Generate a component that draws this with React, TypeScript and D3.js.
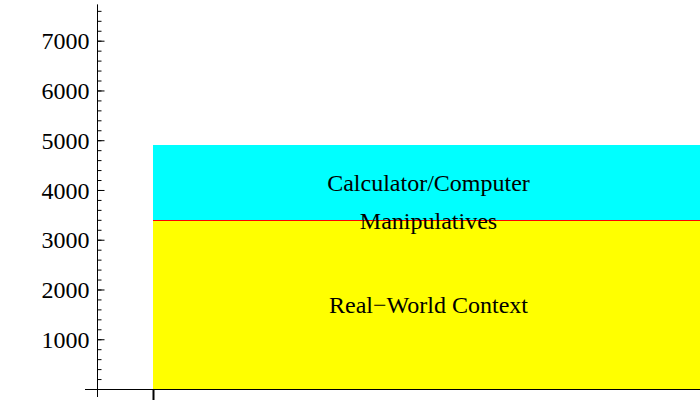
import React, { useEffect, useRef } from "react";
import * as d3 from "d3";

// Data (flat stacked areas)
const xs = [0, 1];
const categories = ["Real\u2212World Context", "Manipulatives", "Calculator/Computer"];
const realWorld = [3375, 3375];
const manipulatives = [20, 20];
const calculator = [1510, 1510];
const majorTicks = [1000, 2000, 3000, 4000, 5000, 6000, 7000];
const minorTicks = d3.range(200, 7700, 200);
const colors = ["#ffff00", "#ff0000", "#00ffff"];

const App = () => {
  const ref = useRef<SVGSVGElement>(null);

  useEffect(() => {
    const width = 700;
    const height = 400;
    const font = "'Liberation Serif', 'Times New Roman', serif";

    const svg = d3.select(ref.current);
    svg.selectAll("*").remove();
    svg.attr("width", width).attr("height", height);

    const x = d3.scaleLinear().domain([0, 1]).range([153, 704]);
    const y = d3.scaleLinear().domain([0, 7000]).range([389, 40.7]);

    const rows = xs.map((xv, i) => ({
      x: xv,
      [categories[0]]: realWorld[i],
      [categories[1]]: manipulatives[i],
      [categories[2]]: calculator[i],
    }));

    const series = d3.stack<any>().keys(categories)(rows);

    const area = d3
      .area<any>()
      .x((d) => x(d.data.x))
      .y0((d) => y(d[0]))
      .y1((d) => y(d[1]));

    svg
      .append("defs")
      .append("clipPath")
      .attr("id", "plot-clip")
      .append("rect")
      .attr("x", 0)
      .attr("y", 0)
      .attr("width", width)
      .attr("height", height);

    svg
      .append("g")
      .attr("clip-path", "url(#plot-clip)")
      .selectAll("path")
      .data(series)
      .enter()
      .append("path")
      .attr("d", area)
      .attr("fill", (d, i) => colors[i]);

    // band labels, centred in each band
    const xMid = (x(xs[0]) + x(xs[xs.length - 1])) / 2;
    svg
      .append("g")
      .selectAll("text")
      .data(series)
      .enter()
      .append("text")
      .attr("x", xMid)
      .attr("y", (d) => (y(d[0][0]) + y(d[0][1])) / 2)
      .attr("dy", "0.34em")
      .attr("text-anchor", "middle")
      .attr("font-family", font)
      .attr("font-size", 24)
      .attr("fill", "#000")
      .text((d) => d.key);

    // x axis
    svg
      .append("line")
      .attr("x1", 85)
      .attr("x2", width)
      .attr("y1", 389.5)
      .attr("y2", 389.5)
      .attr("stroke", "#000");

    const xAxis = svg
      .append("g")
      .attr("transform", "translate(0,389)")
      .call(d3.axisBottom(x).tickValues([xs[0]]).tickSize(12).tickFormat(() => ""));
    xAxis.select(".domain").remove();
    xAxis.selectAll("line").attr("stroke", "#000").attr("stroke-width", 2);

    // y axis
    const axisX = 97.5;
    svg
      .append("line")
      .attr("x1", axisX)
      .attr("x2", axisX)
      .attr("y1", y(7730))
      .attr("y2", 397)
      .attr("stroke", "#000");

    const minor = svg
      .append("g")
      .attr("transform", `translate(${axisX},0)`)
      .call(d3.axisLeft(y).tickValues(minorTicks).tickSize(-4).tickFormat(() => ""));
    minor.select(".domain").remove();
    minor.selectAll("line").attr("stroke", "#000");

    const major = svg
      .append("g")
      .attr("transform", `translate(${axisX},0)`)
      .call(d3.axisLeft(y).tickValues(majorTicks).tickSize(-7).tickPadding(8).tickFormat(d3.format("d")));
    major.select(".domain").remove();
    major.selectAll("line").attr("stroke", "#000");
    major
      .selectAll("text")
      .attr("font-family", font)
      .attr("font-size", 24)
      .attr("fill", "#000")
      .attr("dy", "0.34em");
  }, []);

  return (
    <svg
      ref={ref}
      style={{ position: "absolute", left: 0, top: 0, background: "#fff" }}
    ></svg>
  );
};

export default App;
